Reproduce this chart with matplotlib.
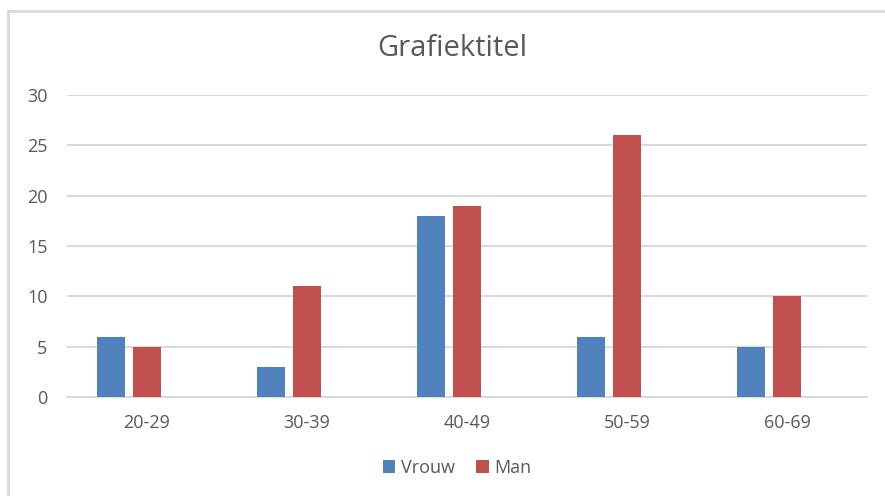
import matplotlib
matplotlib.use("Agg")
import matplotlib.pyplot as plt
from matplotlib.lines import Line2D
import numpy as np

categories = ["20-29", "30-39", "40-49", "50-59", "60-69"]
vrouw = [6, 3, 18, 6, 5]
man = [5, 11, 19, 26, 10]
yticks = [0, 5, 10, 15, 20, 25, 30]

W, H = 885, 496
fig = plt.figure(figsize=(W / 100, H / 100), dpi=100)
plt.rcParams['font.family'] = ['Open Sans', 'DejaVu Sans']

# chart frame (left and top edges visible)
fig.add_artist(Line2D([8 / W, 8 / W], [0, 1 - 11 / H], transform=fig.transFigure,
                      color="#d9d9d9", lw=2))
fig.add_artist(Line2D([8 / W, 1], [1 - 11 / H, 1 - 11 / H], transform=fig.transFigure,
                      color="#d9d9d9", lw=2))

ax = fig.add_axes([67 / W, 1 - 397 / H, 800 / W, 302 / H])
x = np.arange(len(categories))
bw = 28 / 160
gap = 8 / 160
ax.bar(x - bw - gap, vrouw, width=bw, color="#4F81BD", label="Vrouw", zorder=3)
ax.bar(x, man, width=bw, color="#C0504D", label="Man", zorder=3)

ax.set_xlim(-0.5, len(categories) - 0.5)
ax.set_ylim(0, 30)
ax.set_yticks(yticks)
ax.set_xticks(x)
ax.set_xticklabels(categories)
ax.grid(axis="y", color="#d9d9d9", lw=1.4, zorder=0)
for s in ["top", "right", "left"]:
    ax.spines[s].set_visible(False)
ax.spines["bottom"].set_color("#d9d9d9")
ax.spines["bottom"].set_linewidth(1.4)
ax.tick_params(axis="both", length=0, colors="#595959", labelsize=13)
ax.tick_params(axis="y", pad=14)
ax.tick_params(axis="x", pad=12)

fig.text(452 / W, 1 - 49 / H, "Grafiektitel", ha="center", va="center",
         fontsize=21, color="#595959")

leg = fig.legend(loc="center", bbox_to_anchor=(457 / W, 1 - 468 / H), ncol=2,
                 frameon=False, fontsize=13, handlelength=0.7, handleheight=0.7,
                 handletextpad=0.3, columnspacing=1.2)
for t in leg.get_texts():
    t.set_color("#595959")

fig.savefig("out.png", dpi=100, facecolor="white")
